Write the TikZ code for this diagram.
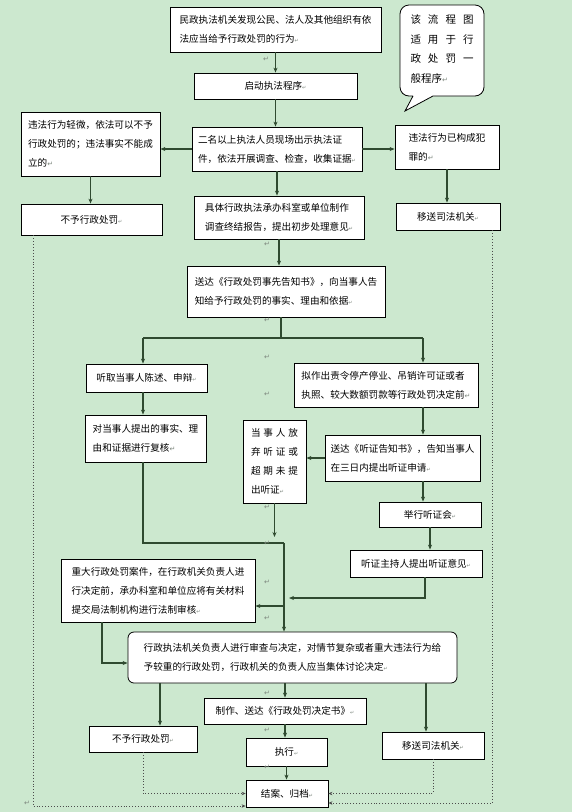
\documentclass[tikz,border=0pt]{standalone}
\usepackage{fontspec}
\usepackage{tikz}
\usetikzlibrary{arrows.meta}
\usepackage{xcolor}
\newfontfamily\cjk{Noto Sans CJK SC}
\newfontfamily\symfont{DejaVu Sans}
\definecolor{bgc}{HTML}{CCE8CF}
\definecolor{arrc}{HTML}{2F4A30}
\definecolor{retgray}{HTML}{7C867D}
\newcommand\retm{{\color{retgray}\symfont\fontsize{7}{7}\selectfont ↵}}
\newcommand\rets{{\color{retgray}\symfont\fontsize{5}{5}\selectfont ↵}}
\newcommand\spread[1]{\makebox[47pt][s]{#1}}

\begin{document}
\begin{tikzpicture}[x=1pt,y=-1pt,
  box/.style={draw=black,fill=white,inner sep=0pt,align=left,line width=0.8pt,font=\cjk\fontsize{9.6}{19}\selectfont},
  arr/.style={->,>={Stealth[length=5pt,width=4pt]},draw=arrc,line width=1.1pt},
  link/.style={draw=arrc,line width=1.1pt},
  dots/.style={->,>={Stealth[length=4pt,width=3.5pt]},draw=black!70,dotted,line width=0.9pt},
  retnode/.style={inner sep=0pt}]
\path[use as bounding box,fill=bgc] (0,0) rectangle (572,812);

\node[box,minimum width=211pt,minimum height=45pt] (start) at (275.5,29.5) {民政执法机关发现公民、法人及其他组织有依\\法应当给予行政处罚的行为\rets};
\node[box,minimum width=163pt,minimum height=26pt] (launch) at (275.5,86) {启动执法程序\rets};
\node[box,minimum width=170pt,minimum height=44pt] (inspect) at (277,149) {二名以上执法人员现场出示执法证\\件，依法开展调查、检查，收集证据\rets};
\node[box,minimum width=139pt,minimum height=64pt] (minor) at (90.5,144) {违法行为轻微，依法可以不予\\行政处罚的；违法事实不能成\\立的\retm};
\node[box,minimum width=104pt,minimum height=44pt] (crime) at (447,147) {违法行为已构成犯\\罪的\retm};
\node[box,minimum width=141pt,minimum height=31pt] (nopunish) at (91.5,219.5) {不予行政处罚\rets};
\node[box,minimum width=104pt,minimum height=27pt] (transfer) at (448,216.5) {移送司法机关\rets};
\node[box,minimum width=170pt,minimum height=43pt] (report) at (279,217.5) {具体行政执法承办科室或单位制作\\调查终结报告，提出初步处理意见\rets};
\node[box,minimum width=198pt,minimum height=51pt] (notice) at (286,291.5) {送达《行政处罚事先告知书》，向当事人告\\知给予行政处罚的事实、理由和依据\rets};
\node[box,minimum width=121pt,minimum height=28pt] (plea) at (146.5,378) {听取当事人陈述、申辩\rets};
\node[box,minimum width=184pt,minimum height=44pt] (severe) at (386,385) {拟作出责令停产停业、吊销许可证或者\\执照、较大数额罚款等行政处罚决定前\retm};
\node[box,minimum width=121pt,minimum height=47pt] (recheck) at (145.5,438.5) {对当事人提出的事实、理\\由和证据进行复核\retm};
\node[box,minimum width=63pt,minimum height=83pt] (waive) at (274.5,461.5) {\spread{当\hfill 事\hfill 人\hfill 放}\\\spread{弃\hfill 听\hfill 证\hfill 或}\\\spread{超\hfill 期\hfill 未\hfill 提}\\出听证\rets};
\node[box,minimum width=155pt,minimum height=46pt] (hnotice) at (402.5,458) {送达《听证告知书》，告知当事人\\在三日内提出听证申请\rets};
\node[box,minimum width=102pt,minimum height=25pt] (hearing) at (430,514.5) {举行听证会\rets};
\node[box,minimum width=132pt,minimum height=27pt] (opinion) at (416,563.5) {听证主持人提出听证意见\rets};
\node[box,minimum width=194pt,minimum height=63pt] (legal) at (158,590.5) {重大行政处罚案件，在行政机关负责人进\\行决定前，承办科室和单位应将有关材料\\提交局法制机构进行法制审核\rets};
\node[box,rounded corners=6pt,minimum width=329pt,minimum height=51pt] (decide) at (292.5,657.5) {行政执法机关负责人进行审查与决定，对情节复杂或者重大违法行为给\\予较重的行政处罚，行政机关的负责人应当集体讨论决定\rets};
\node[box,minimum width=108pt,minimum height=26pt] (nopunish2) at (143,739) {不予行政处罚\rets};
\node[box,minimum width=162pt,minimum height=26pt] (issue) at (285,711) {制作、送达《行政处罚决定书》\rets};
\node[box,minimum width=81pt,minimum height=28pt] (execute) at (286.5,752) {执行\rets};
\node[box,minimum width=102pt,minimum height=27pt] (transfer2) at (433,745.5) {移送司法机关\rets};
\node[box,minimum width=82pt,minimum height=27pt] (archive) at (287,793.5) {结案、归档\rets};

\draw[line width=0.8pt,fill=white] (413,96) -- (405,111) -- (433,96) -- (475,96) [rounded corners=9pt] -- (484,96) -- (484,5) -- (400,5) -- (400,96) [sharp corners] -- (413,96);
\node[inner sep=0pt,align=left,font=\cjk\fontsize{10.5}{19.5}\selectfont] (memo) at (442,49) {\makebox[63pt][s]{该\hfill 流\hfill 程\hfill 图}\\\makebox[63pt][s]{适\hfill 用\hfill 于\hfill 行}\\\makebox[63pt][s]{政\hfill 处\hfill 罚\hfill 一}\\般程序\retm};

\coordinate (fork) at (281,338);
\coordinate (pleain) at (143,338);
\coordinate (severein) at (423,338);
\coordinate (join) at (284,543);
\coordinate (waiveend) at (274.5,537);
\coordinate (hmerge) at (289,598);
\coordinate (tolegal) at (284,606);

\draw[arr] (start) -- (launch);
\draw[arr] (launch.south) -- (launch.south |- inspect.north);
\draw[arr] (inspect.west) -- (inspect.west -| minor.east);
\draw[arr] (inspect.east) -- (inspect.east -| crime.west);
\draw[arr] (minor.south) -- (minor.south |- nopunish.north);
\draw[arr] (crime.south) -- (crime.south |- transfer.north);
\draw[arr] (inspect.south) -- (inspect.south |- report.north);
\draw[arr] (report.south) -- (report.south |- notice.north);
\draw[link] (fork |- notice.south) -- (fork);
\draw[link] (pleain) -- (severein);
\draw[arr] (pleain) -- (pleain |- plea.north);
\draw[arr] (severein) -- (severein |- severe.north);
\draw[arr] (pleain |- plea.south) -- (pleain |- recheck.north);
\draw[arr] (severein |- severe.south) -- (severein |- hnotice.north);
\draw[arr] (hnotice.west) -- (hnotice.west -| waive.east);
\draw[arr] (waive.south) -- (waiveend);
\draw[link] (pleain |- recheck.south) |- (join);
\draw[arr] (join) -- (join |- decide.north);
\draw[arr] (severein |- hnotice.south) -- (severein |- hearing.north);
\draw[arr] (hearing.south) -- (hearing.south |- opinion.north);
\draw[arr] ([xshift=9]opinion.south) |- (hmerge);
\draw[arr] (tolegal) -- (tolegal -| legal.east);
\draw[arr] ([xshift=-56]legal.south) |- ([yshift=-5.5]decide.west);
\draw[arr] ([xshift=17]nopunish2.north |- decide.south) -- ([xshift=17]nopunish2.north);
\draw[arr] (issue.north |- decide.south) -- (issue.north);
\draw[arr] ([xshift=-7]transfer2.north |- decide.south) -- ([xshift=-7]transfer2.north);
\draw[arr] (issue.south) -- (issue.south |- execute.north);
\draw[arr] (execute.south) -- (execute.south |- archive.north);
\draw[dots] (nopunish2.south) |- (archive.west);
\draw[dots] (transfer2.south) |- (archive.east);
\draw[dots] ([xshift=-58.5]nopunish.south) |- ([yshift=-12.5]archive.west);
\draw[dots] ([xshift=44]transfer.south) |- ([yshift=-9.5]archive.east);

\foreach \x/\y [count=\i] in {266/59,267/244,267/320,267/357,267/394,267/507,267/543,267/582,267/618,267/693,267/730,267/767,27/803}
  \node[retnode] (ret\i) at (\x,\y) {\retm};
\end{tikzpicture}
\end{document}
